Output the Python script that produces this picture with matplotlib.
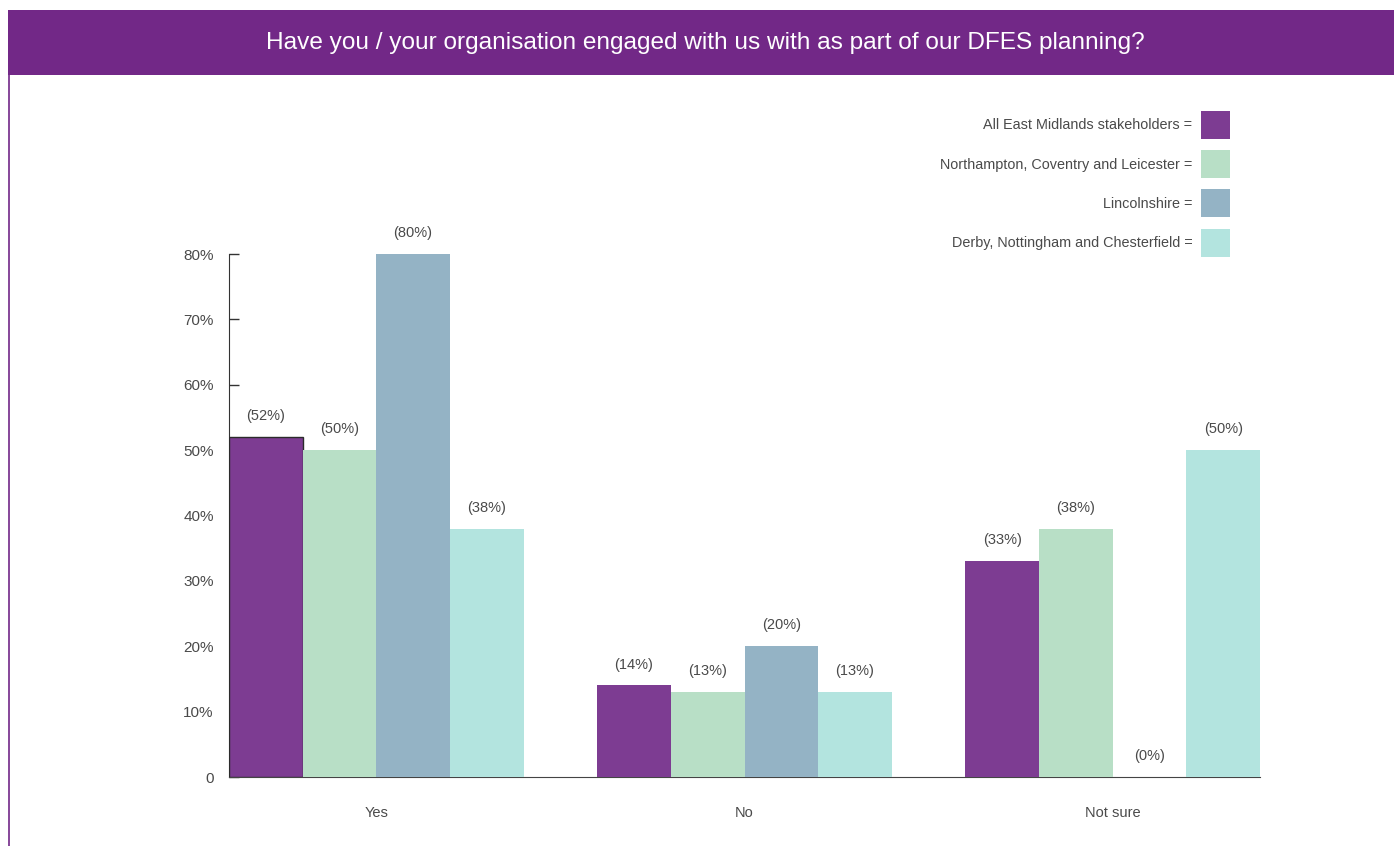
import matplotlib

matplotlib.use("Agg")
import matplotlib.pyplot as plt  # noqa: E402
import numpy as np  # noqa: E402
from matplotlib.patches import Patch, Rectangle  # noqa: E402

plt.rcParams["font.family"] = ["Liberation Sans", "DejaVu Sans"]

TITLE = "Have you / your organisation engaged with us with as part of our DFES planning?"
categories = ["Yes", "No", "Not sure"]
series_names = [
    "All East Midlands stakeholders",
    "Northampton, Coventry and Leicester",
    "Lincolnshire",
    "Derby, Nottingham and Chesterfield",
]
all_em = [52, 14, 33]
ncl = [50, 13, 38]
lincs = [80, 20, 0]
dnc = [38, 13, 50]
series_values = [all_em, ncl, lincs, dnc]
y_ticks = [0, 10, 20, 30, 40, 50, 60, 70, 80]
y_tick_labels = ["0", "10%", "20%", "30%", "40%", "50%", "60%", "70%", "80%"]

colors = ["#7D3C92", "#B8DFC6", "#94B3C5", "#B3E4DF"]
HEADER = "#722887"
TEXT = "#4a4a4a"

W, H = 1394, 846
fig = plt.figure(figsize=(W / 100, H / 100), dpi=100)

# header band + thin left border
fig.add_artist(Rectangle((8 / W, 1 - 75 / H), 1 - 8 / W, 65 / H, transform=fig.transFigure,
                         facecolor=HEADER, edgecolor="none"))
fig.add_artist(plt.Line2D([8.5 / W, 8.5 / W], [0, 1 - 75 / H], transform=fig.transFigure,
                          color=HEADER, lw=1.2))
fig.text(705 / W, 1 - 43 / H, TITLE, ha="center", va="center", color="white", fontsize=17.6)

ax = fig.add_axes([229 / W, 1 - 777 / H, (1260 - 229) / W, (777 - 254) / H])
x = np.arange(len(categories))
width = 0.2
for i, vals in enumerate(series_values):
    bars = ax.bar(x + (i - 1.5) * width, vals, width, color=colors[i], zorder=3)
    ax.bar_label(bars, labels=[f"({v}%)" for v in vals], padding=10, fontsize=10.5,
                 color=TEXT)
    if i == 0:
        bars[0].set_edgecolor("#2b2b2b")
        bars[0].set_linewidth(1.0)

ax.set_xlim(-0.4, 2.4)
ax.set_ylim(0, 80)
ax.set_xticks(x)
ax.set_xticklabels(categories)
ax.set_yticks(y_ticks)
ax.set_yticklabels(y_tick_labels)
ax.tick_params(axis="x", length=0, pad=21, labelsize=10.5, labelcolor=TEXT)
ax.tick_params(axis="y", direction="in", length=7, width=1, color="#333333", pad=11,
               labelsize=11, labelcolor=TEXT)
for s in ("top", "right"):
    ax.spines[s].set_visible(False)
ax.spines["left"].set_color("#333333")
ax.spines["bottom"].set_color("#444444")
ax.spines["left"].set_zorder(2)
ax.spines["bottom"].set_zorder(2)

handles = [Patch(facecolor=c, edgecolor="none") for c in colors]
leg = ax.legend(handles, [f"{n} =" for n in series_names], loc="upper right",
                bbox_to_anchor=(1230 / W, 1 - 111 / H), bbox_transform=fig.transFigure,
                frameon=False, markerfirst=False, fontsize=10.4, handlelength=2.0,
                handleheight=2.6, labelspacing=0.78, handletextpad=0.6, borderpad=0,
                borderaxespad=0)
for t in leg.get_texts():
    t.set_color(TEXT)

fig.savefig("out.png", dpi=100)
